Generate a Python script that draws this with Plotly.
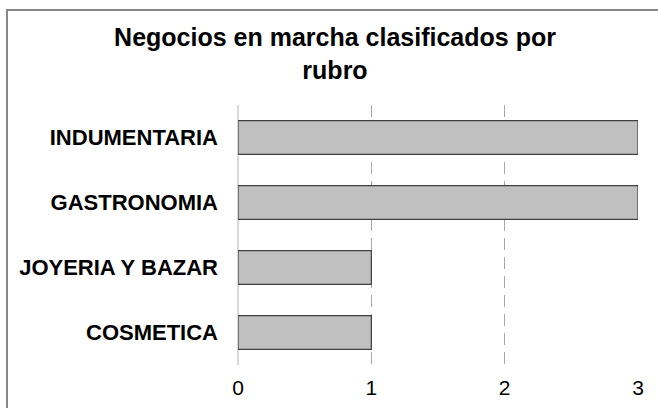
import plotly.graph_objects as go

categories = ["COSMETICA", "JOYERIA Y BAZAR", "GASTRONOMIA", "INDUMENTARIA"]
values = [1, 1, 3, 3]
title_text = "Negocios en marcha clasificados por<br>rubro"
x_ticks = [0, 1, 2, 3]

W, H = 658, 408
L, R, T, B = 238, 20, 105, 43
pw, ph = W - L - R, H - T - B

fig = go.Figure(go.Bar(
    x=values, y=categories, orientation="h", width=0.52,
    marker=dict(color="#c0c0c0", line=dict(color="#404040", width=1.2)),
    cliponaxis=False,
))

fig.update_layout(
    width=W, height=H,
    margin=dict(l=L, r=R, t=T, b=B, autoexpand=False),
    paper_bgcolor="white", plot_bgcolor="white",
    showlegend=False,
    font=dict(family="Liberation Sans, Arial, sans-serif", color="black"),
    title=dict(text="<b>" + title_text + "</b>", x=335 / W, xanchor="center",
               y=1 - 46 / H, yanchor="middle", yref="container",
               font=dict(size=25, color="black")),
    xaxis=dict(range=[0, 3], tickvals=x_ticks, showgrid=True, gridcolor="#a6a6a6",
               griddash="12px,7px", gridwidth=1, zeroline=True, zerolinecolor="#d9d9d9",
               zerolinewidth=1.5, showline=False, ticks="", ticklabelstandoff=8,
               automargin=False,
               tickfont=dict(size=21, color="black"), fixedrange=True),
    yaxis=dict(showgrid=False, zeroline=False, showline=False, ticks="",
               ticklabelstandoff=19, automargin=False,
               tickfont=dict(size=22, color="black", weight="bold"), fixedrange=True),
    shapes=[dict(type="rect", xref="paper", yref="paper",
                 x0=(7 - L) / pw, x1=(W + 20 - L) / pw,
                 y0=-(B + 20) / ph, y1=1 + (T - 10) / ph,
                 line=dict(color="#888888", width=2), layer="below")],
)

fig.write_html("out.html", config={"displayModeBar": False},
               post_script="document.body.style.margin='0';document.body.style.overflow='hidden';")
